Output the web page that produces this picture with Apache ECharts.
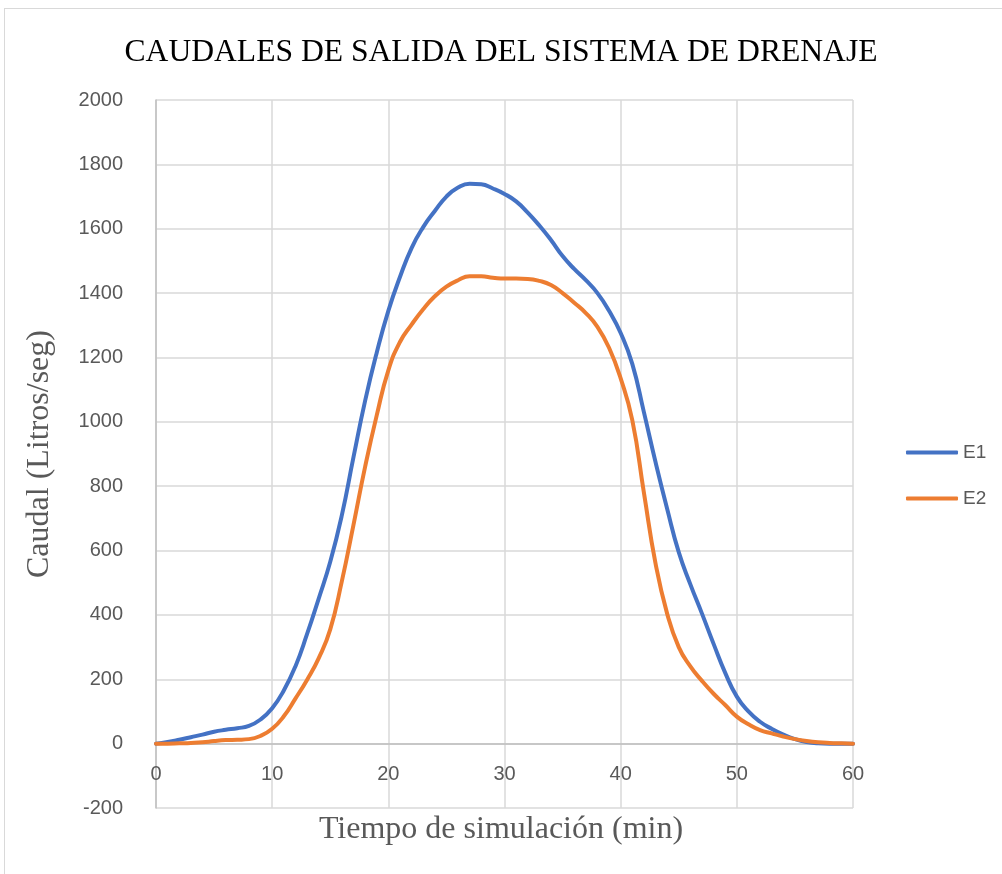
<!DOCTYPE html>
<html>
<head>
<meta charset="utf-8">
<title>Caudales de salida del sistema de drenaje</title>
<script src="https://cdn.jsdelivr.net/npm/echarts@6/dist/echarts.min.js"></script>
<style>
  html, body { margin: 0; padding: 0; background: #ffffff; }
  #frame {
    position: absolute; left: 4px; top: 8px; width: 1010px; height: 880px;
    border: 1px solid #d9d9d9; box-sizing: border-box;
  }
  #chart { position: absolute; left: 0; top: 0; width: 1002px; height: 874px; }
</style>
</head>
<body>
<div id="frame"></div>
<div id="chart"></div>
<script>
// Simulation time, minutes
const tiempo = [0, 1, 2, 3, 4, 5, 6, 7, 8, 9, 10, 11, 12, 13, 14, 15, 16, 17, 18, 19, 20,
  21, 22, 23, 24, 25, 26, 27, 28, 29, 30, 31, 32, 33, 34, 35, 36, 37, 38, 39, 40,
  41, 42, 43, 44, 45, 46, 47, 48, 49, 50, 51, 52, 53, 54, 55, 56, 57, 58, 59, 60];

// Outflow of scenario E1, litres per second
const caudalE1 = [0, 5, 12, 20, 28, 37, 43, 48, 55, 75, 110, 165, 240, 340, 450, 565, 710, 890, 1065, 1215, 1345,
  1450, 1540, 1605, 1655, 1700, 1728, 1740, 1738, 1725, 1708, 1685, 1650, 1610, 1565, 1515, 1475, 1440, 1400, 1345, 1276,
  1180, 1030, 875, 730, 595, 495, 404, 310, 220, 146, 100, 68, 46, 28, 14, 5, 1, 0, 0, 0];

// Outflow of scenario E2, litres per second
const caudalE2 = [0, 0, 1, 2, 4, 8, 11, 12, 14, 24, 46, 85, 140, 198, 265, 355, 505, 680, 860, 1020, 1160,
  1248, 1302, 1350, 1390, 1420, 1440, 1452, 1452, 1448, 1445, 1445, 1444, 1438, 1425, 1400, 1370, 1338, 1295, 1230, 1135,
  1005, 780, 560, 404, 300, 240, 195, 155, 120, 84, 60, 42, 32, 22, 14, 8, 4, 2, 1, 0];

const titulo = 'CAUDALES DE SALIDA DEL SISTEMA DE DRENAJE';
const tituloX = 'Tiempo de simulación (min)';
const tituloY = 'Caudal (Litros/seg)';

const pares = (ys) => tiempo.map((t, i) => [t, ys[i]]);

const chart = echarts.init(document.getElementById('chart'), null, { renderer: 'canvas' });

const serif = '"Liberation Serif", "DejaVu Serif", serif';
const sans = '"Liberation Sans", "Open Sans", sans-serif';
const gris = '#595959';

// Plot box: 0..60 min across, -200..2000 L/s down; the time axis sits on the zero line
const gridTop = 100, gridBottom = 66, plotHeight = 874 - gridTop - gridBottom;
const zeroOffset = -plotHeight * 200 / 2200;

chart.setOption({
  animation: false,
  backgroundColor: 'transparent',
  title: {
    text: titulo,
    left: 'center',
    top: 32,
    textStyle: { fontFamily: serif, fontSize: 31.6, fontWeight: 'normal', color: '#000000' }
  },
  grid: { left: 156, right: 149, top: gridTop, bottom: gridBottom, containLabel: false },
  legend: {
    orient: 'vertical',
    left: 901,
    top: 438,
    icon: 'roundRect',
    itemWidth: 52,
    itemHeight: 4,
    itemGap: 27,
    textStyle: { fontFamily: sans, fontSize: 19, color: gris },
    data: ['E1', 'E2']
  },
  xAxis: {
    type: 'value',
    min: 0,
    max: 60,
    interval: 10,
    offset: zeroOffset,
    axisLine: { show: true, onZero: false, lineStyle: { color: '#bfbfbf', width: 1.5 } },
    axisTick: { show: false },
    axisLabel: { fontFamily: sans, fontSize: 20, color: gris, margin: 21 },
    splitLine: { show: true, lineStyle: { color: '#d9d9d9', width: 1.5 } }
  },
  yAxis: {
    type: 'value',
    min: -200,
    max: 2000,
    interval: 200,
    axisLine: { show: true, lineStyle: { color: '#bfbfbf', width: 1.5 } },
    axisTick: { show: false },
    axisLabel: { fontFamily: sans, fontSize: 20, color: gris, margin: 33, formatter: (v) => String(v) },
    splitLine: { show: true, lineStyle: { color: '#d9d9d9', width: 1.5 } }
  },
  graphic: [
    {
      type: 'text',
      left: 'center',
      top: 814,
      style: { text: tituloX, font: '32px ' + serif, fill: gris }
    },
    {
      type: 'text',
      x: 40,
      y: 454,
      rotation: Math.PI / 2,
      style: { text: tituloY, font: '32px ' + serif, fill: gris, align: 'center', verticalAlign: 'middle' }
    }
  ],
  series: [
    {
      name: 'E1',
      type: 'line',
      data: pares(caudalE1),
      smooth: 0.5,
      symbol: 'none',
      lineStyle: { color: '#4472C4', width: 4, cap: 'round' },
      itemStyle: { color: '#4472C4' },
      z: 3
    },
    {
      name: 'E2',
      type: 'line',
      data: pares(caudalE2),
      smooth: 0.5,
      symbol: 'none',
      lineStyle: { color: '#ED7D31', width: 4, cap: 'round' },
      itemStyle: { color: '#ED7D31' },
      z: 4
    }
  ]
});
</script>
</body>
</html>
